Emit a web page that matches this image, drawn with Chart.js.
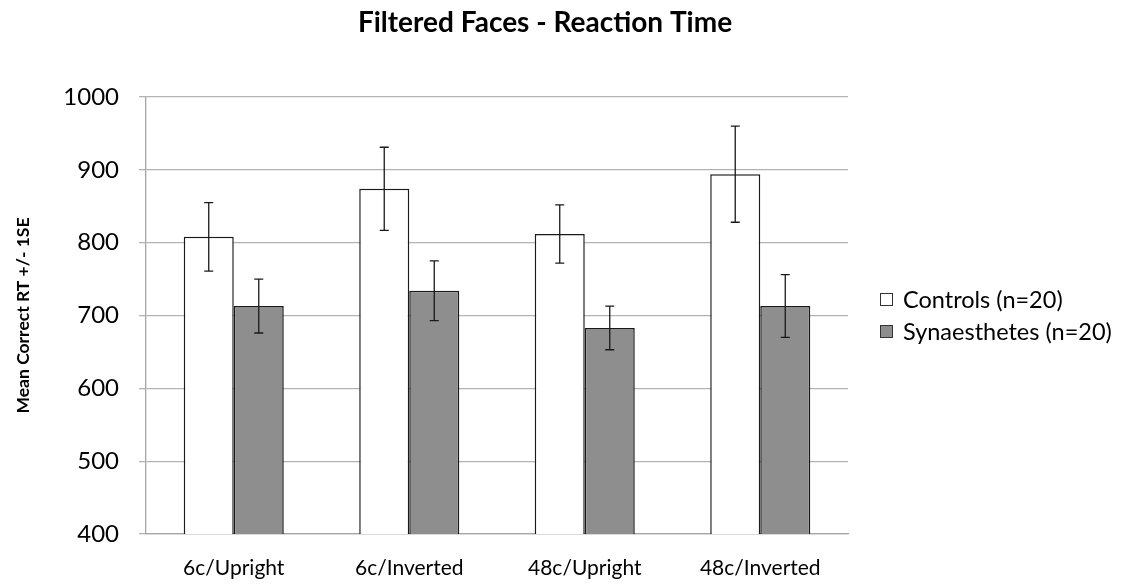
<!DOCTYPE html>
<html>
<head>
<meta charset="utf-8">
<script src="https://cdn.jsdelivr.net/npm/chart.js@4.4.0/dist/chart.umd.min.js"></script>
<style>
  html, body { margin: 0; padding: 0; background: #ffffff; }
  #wrap { width: 1123px; height: 587px; }
</style>
</head>
<body>
<div id="wrap"><canvas id="c" width="1123" height="587"></canvas></div>
<script>
const categories = ['6c/Upright', '6c/Inverted', '48c/Upright', '48c/Inverted'];
const controls = [808, 874, 812, 894];
const controlsSE = [47, 57, 40, 66];
const synaesthetes = [713, 734, 683, 713];
const synaesthetesSE = [37, 41, 30, 43];
const yTicks = [400, 500, 600, 700, 800, 900, 1000];
const seriesNames = ['Controls (n=20)', 'Synaesthetes (n=20)'];
const titleText = 'Filtered Faces - Reaction Time';
const yTitle = 'Mean Correct RT +/- 1SE';

const FONT = 'Lato, "Open Sans", sans-serif';
const errors = [controlsSE, synaesthetesSE];

const errorBarPlugin = {
  id: 'errorBars',
  afterDatasetsDraw(chart) {
    const ctx = chart.ctx;
    const ys = chart.scales.y;
    ctx.save();
    ctx.strokeStyle = '#1a1a1a';
    ctx.lineWidth = 1.3;
    chart.data.datasets.forEach((ds, i) => {
      const meta = chart.getDatasetMeta(i);
      meta.data.forEach((el, j) => {
        const v = ds.data[j], e = errors[i][j];
        const yt = ys.getPixelForValue(v + e);
        const yb = ys.getPixelForValue(v - e);
        const x = el.x;
        ctx.beginPath();
        ctx.moveTo(x, yt); ctx.lineTo(x, yb);
        ctx.moveTo(x - 4.5, yt); ctx.lineTo(x + 4.5, yt);
        ctx.moveTo(x - 4.5, yb); ctx.lineTo(x + 4.5, yb);
        ctx.stroke();
      });
    });
    ctx.restore();
  }
};

const decorPlugin = {
  id: 'decor',
  afterDraw(chart) {
    const ctx = chart.ctx;
    ctx.save();
    // title
    ctx.fillStyle = '#000000';
    ctx.font = 'bold 28px ' + FONT;
    ctx.textAlign = 'center';
    ctx.textBaseline = 'middle';
    ctx.fillText(titleText, 545, 23);
    // legend
    ctx.font = '23.5px ' + FONT;
    ctx.textAlign = 'left';
    const rows = [299, 331];
    chart.data.datasets.forEach((ds, i) => {
      const cy = rows[i];
      ctx.fillStyle = ds.backgroundColor;
      ctx.fillRect(880, cy - 6, 13, 13);
      ctx.strokeStyle = '#333333';
      ctx.lineWidth = 1;
      ctx.strokeRect(880.5, cy - 5.5, 12, 12);
      ctx.fillStyle = '#000000';
      ctx.fillText(ds.label, 903, cy + 1);
    });
    ctx.restore();
  }
};

new Chart(document.getElementById('c'), {
  type: 'bar',
  data: {
    labels: categories,
    datasets: [
      { label: seriesNames[0], data: controls, backgroundColor: '#ffffff', borderColor: '#1a1a1a', borderWidth: 1.5 },
      { label: seriesNames[1], data: synaesthetes, backgroundColor: '#8e8e8e', borderColor: '#1a1a1a', borderWidth: 1.5 }
    ]
  },
  options: {
    responsive: false,
    animation: false,
    devicePixelRatio: 1,
    layout: { padding: { left: 0, right: 275, top: 97, bottom: 0 } },
    plugins: {
      legend: { display: false },
      title: { display: false },
      tooltip: { enabled: false }
    },
    datasets: { bar: { categoryPercentage: 0.57, barPercentage: 1.0 } },
    scales: {
      x: {
        grid: { display: false, drawTicks: false },
        border: { display: true, color: '#a6a6a6', width: 1.3 },
        ticks: { color: '#000000', font: { family: FONT, size: 21 }, padding: 22 },
        afterFit(scale) { scale.height = 53; }
      },
      y: {
        min: 400, max: 1000,
        afterBuildTicks(scale) { scale.ticks = yTicks.map(v => ({ value: v })); },
        grid: { color: '#b3b3b3', lineWidth: 1.3, tickLength: 7, drawTicks: true },
        border: { display: true, color: '#a6a6a6', width: 1.3 },
        ticks: { color: '#000000', font: { family: FONT, size: 24 }, padding: 20, callback: (v) => String(v) },
        title: { display: true, text: yTitle, color: '#000000', font: { family: FONT, size: 17.5, weight: 'bold' }, padding: { top: 13, bottom: 0 } },
        afterFit(scale) { scale.width = 146; }
      }
    }
  },
  plugins: [errorBarPlugin, decorPlugin]
});
</script>
</body>
</html>
